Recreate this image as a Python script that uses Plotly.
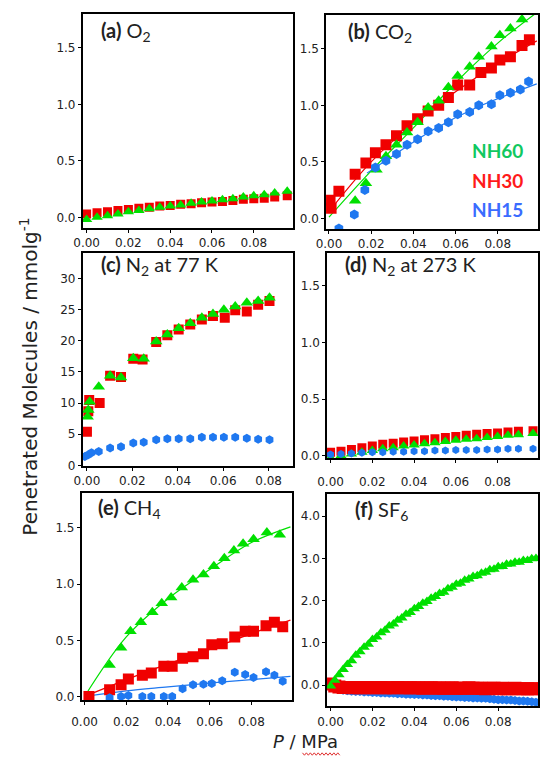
import plotly.graph_objects as go

# ---------------- data ----------------
GREEN = '#00e000'
RED = '#f00000'
BLUE = '#1f78f0'

# (a) O2
a_x = [0.000, 0.005, 0.010, 0.015, 0.020, 0.025, 0.030, 0.035, 0.040, 0.045,
       0.050, 0.055, 0.060, 0.065, 0.070, 0.075, 0.080, 0.085, 0.090, 0.096]
a_red = [0.03, 0.04, 0.05, 0.06, 0.07, 0.08, 0.09, 0.10, 0.105, 0.115,
         0.12, 0.13, 0.135, 0.14, 0.15, 0.16, 0.165, 0.17, 0.18, 0.19]
a_green = [-0.02, 0.00, 0.015, 0.03, 0.05, 0.06, 0.075, 0.09, 0.10, 0.11,
           0.125, 0.135, 0.145, 0.155, 0.165, 0.18, 0.19, 0.20, 0.215, 0.23]

# (b) CO2
b_green_x = [0.0124, 0.0175, 0.0225, 0.027, 0.032, 0.037, 0.042, 0.047, 0.052,
             0.0566, 0.061, 0.0667, 0.071, 0.077, 0.081, 0.086, 0.0915]
b_green = [0.155, 0.31, 0.43, 0.55, 0.65, 0.76, 0.85, 0.98, 1.04,
           1.16, 1.26, 1.34, 1.43, 1.52, 1.62, 1.68, 1.76]
b_red_x = [0.0005, 0.001, 0.0047, 0.0124, 0.0175, 0.022, 0.027, 0.032, 0.037, 0.042,
           0.047, 0.052, 0.0566, 0.061, 0.0667, 0.072, 0.077, 0.081, 0.086, 0.0915, 0.095]
b_red = [0.16, 0.09, 0.24, 0.39, 0.49, 0.58, 0.65, 0.73, 0.82, 0.88,
         0.95, 1.00, 1.07, 1.18, 1.18, 1.29, 1.33, 1.40, 1.43, 1.53, 1.58]
b_blue_x = [0.0047, 0.012, 0.017, 0.022, 0.027, 0.032, 0.037, 0.042, 0.047, 0.052,
            0.0566, 0.061, 0.0667, 0.071, 0.077, 0.081, 0.086, 0.0907, 0.0946]
b_blue = [-0.09, 0.035, 0.25, 0.45, 0.51, 0.57, 0.65, 0.70, 0.77, 0.80,
          0.85, 0.92, 0.94, 1.00, 1.01, 1.09, 1.11, 1.14, 1.21]
b_fit_x = [0.0, 0.02, 0.04, 0.06, 0.08, 0.0985]
b_green_fit = [0.01, 0.42, 0.80, 1.20, 1.55, 1.82]
b_red_fit = [0.06, 0.50, 0.84, 1.12, 1.37, 1.57]
b_blue_fit_x = [0.018, 0.03, 0.05, 0.07, 0.0985]
b_blue_fit = [0.40, 0.55, 0.79, 0.98, 1.19]

# (c) N2 at 77 K
c_green_x = [0.0003, 0.0006, 0.0012, 0.0052, 0.0102, 0.015, 0.0204, 0.025, 0.0305, 0.0354,
             0.0404, 0.0455, 0.0506, 0.0555, 0.0603, 0.0653, 0.0704, 0.0754, 0.0804]
c_green = [7.8, 8.9, 10.2, 12.6, 14.4, 14.1, 17.2, 17.1, 19.9, 21.0,
           22.0, 22.8, 23.7, 24.3, 25.0, 25.5, 26.1, 26.4, 26.9]
c_red_x = [0.0000, 0.0006, 0.0010, 0.0056, 0.0102, 0.015, 0.0204, 0.0245, 0.0305, 0.0354,
           0.0404, 0.0455, 0.0506, 0.0555, 0.0607, 0.0653, 0.0704, 0.0754, 0.0804]
c_red = [5.4, 8.7, 10.5, 10.0, 14.4, 14.2, 17.1, 17.0, 19.8, 20.9,
         21.8, 22.6, 23.4, 24.0, 23.7, 24.9, 24.7, 25.8, 26.4]
c_blue_x = [-0.0009, 0.0006, 0.0020, 0.0052, 0.0102, 0.015, 0.0204, 0.025, 0.0305, 0.0354,
            0.0404, 0.0455, 0.0506, 0.0555, 0.0603, 0.0653, 0.0704, 0.0754, 0.0804]
c_blue = [1.4, 1.7, 2.0, 2.2, 2.8, 3.0, 3.6, 3.7, 4.1, 4.25,
          4.25, 4.25, 4.5, 4.5, 4.5, 4.5, 4.35, 4.2, 4.1]

# (d) N2 at 273 K
d_x = [0.000, 0.005, 0.010, 0.015, 0.020, 0.025, 0.030, 0.035, 0.040, 0.045,
       0.050, 0.055, 0.060, 0.065, 0.070, 0.075, 0.080, 0.085, 0.090, 0.097]
d_red = [0.03, 0.04, 0.055, 0.07, 0.085, 0.10, 0.11, 0.12, 0.13, 0.14,
         0.15, 0.16, 0.17, 0.18, 0.19, 0.195, 0.20, 0.21, 0.215, 0.22]
d_green = [-0.02, 0.00, 0.015, 0.03, 0.045, 0.06, 0.07, 0.085, 0.095, 0.105,
           0.115, 0.125, 0.135, 0.145, 0.15, 0.16, 0.17, 0.18, 0.185, 0.195]
d_blue = [0.01, 0.015, 0.02, 0.025, 0.03, 0.03, 0.035, 0.035, 0.04, 0.04,
          0.045, 0.045, 0.05, 0.05, 0.05, 0.055, 0.055, 0.06, 0.06, 0.06]

# (e) CH4
e_green_x = [0.012, 0.0175, 0.022, 0.027, 0.0325, 0.037, 0.0415, 0.0466, 0.052,
             0.057, 0.062, 0.067, 0.0716, 0.076, 0.081, 0.0874, 0.0936]
e_green = [0.28, 0.435, 0.58, 0.66, 0.75, 0.83, 0.88, 0.97, 1.04,
           1.085, 1.16, 1.23, 1.30, 1.36, 1.40, 1.46, 1.44]
e_red_x = [0.0021, 0.012, 0.0175, 0.021, 0.0277, 0.032, 0.038, 0.042, 0.047,
           0.052, 0.057, 0.061, 0.066, 0.072, 0.077, 0.081, 0.087, 0.091, 0.095]
e_red = [0.0, 0.06, 0.105, 0.155, 0.19, 0.21, 0.27, 0.27, 0.34,
         0.355, 0.38, 0.46, 0.47, 0.53, 0.58, 0.58, 0.63, 0.66, 0.62]
e_blue_x = [0.012, 0.0175, 0.021, 0.0277, 0.032, 0.038, 0.042, 0.047, 0.052,
            0.057, 0.061, 0.066, 0.072, 0.077, 0.081, 0.087, 0.091, 0.095]
e_blue = [-0.01, 0.0, 0.01, 0.0, 0.0, 0.0, 0.0, 0.07, 0.105,
          0.11, 0.115, 0.14, 0.215, 0.195, 0.17, 0.22, 0.19, 0.135]
e_fit_x = [0.0, 0.02, 0.04, 0.06, 0.08, 0.0987]
e_green_fit = [0.0, 0.53, 0.87, 1.13, 1.37, 1.51]
e_red_fit = [0.0, 0.15, 0.29, 0.42, 0.56, 0.68]
e_blue_fit = [0.0, 0.05, 0.085, 0.12, 0.15, 0.18]

# (f) SF6
f_x = [0.000, 0.002, 0.004, 0.006, 0.008, 0.010, 0.012, 0.014, 0.016, 0.018,
       0.020, 0.022, 0.024, 0.026, 0.028, 0.030, 0.032, 0.034, 0.036, 0.038,
       0.040, 0.042, 0.044, 0.046, 0.048, 0.050, 0.052, 0.054, 0.056, 0.058,
       0.060, 0.062, 0.064, 0.066, 0.068, 0.070, 0.072, 0.074, 0.076, 0.078,
       0.080, 0.082, 0.084, 0.086, 0.088, 0.090, 0.092, 0.094, 0.096, 0.098]
f_green = [-0.02, 0.12, 0.25, 0.37, 0.49, 0.58, 0.71, 0.79, 0.90, 0.97,
           1.08, 1.14, 1.24, 1.30, 1.40, 1.45, 1.54, 1.59, 1.68, 1.72,
           1.81, 1.86, 1.94, 1.98, 2.06, 2.10, 2.17, 2.20, 2.28, 2.32,
           2.39, 2.41, 2.48, 2.51, 2.57, 2.59, 2.65, 2.67, 2.73, 2.74,
           2.80, 2.81, 2.86, 2.87, 2.91, 2.91, 2.95, 2.95, 2.99, 3.00]
f_red = [0.03, -0.02, -0.04, -0.05, -0.05, -0.06, -0.05, -0.06, -0.06, -0.05,
         -0.06, -0.06, -0.05, -0.06, -0.06, -0.06, -0.05, -0.06, -0.06, -0.06,
         -0.06, -0.06, -0.07, -0.06, -0.06, -0.07, -0.06, -0.07, -0.07, -0.06,
         -0.07, -0.07, -0.07, -0.06, -0.07, -0.07, -0.07, -0.08, -0.07, -0.07,
         -0.08, -0.07, -0.08, -0.08, -0.07, -0.08, -0.08, -0.08, -0.08, -0.08]
f_blue = [0.0, -0.06, -0.10, -0.12, -0.13, -0.14, -0.15, -0.15, -0.16, -0.16,
          -0.17, -0.17, -0.18, -0.18, -0.19, -0.19, -0.20, -0.20, -0.21, -0.21,
          -0.22, -0.22, -0.23, -0.23, -0.24, -0.25, -0.25, -0.26, -0.26, -0.27,
          -0.28, -0.28, -0.29, -0.29, -0.30, -0.30, -0.31, -0.31, -0.32, -0.33,
          -0.34, -0.34, -0.35, -0.35, -0.36, -0.37, -0.37, -0.38, -0.39, -0.40]

x_tickvals = [0.0, 0.02, 0.04, 0.06, 0.08]
x_ticktext = ['0.00', '0.02', '0.04', '0.06', '0.08']
y_tickvals_std = [0.0, 0.5, 1.0, 1.5]
y_ticktext_std = ['0.0', '0.5', '1.0', '1.5']
y_tickvals_c = [0, 5, 10, 15, 20, 25, 30]
y_ticktext_c = ['0', '5', '10', '15', '20', '25', '30']
y_tickvals_f = [0.0, 1.0, 2.0, 3.0, 4.0]
y_ticktext_f = ['0.0', '1.0', '2.0', '3.0', '4.0']

panel_titles = ['<b>(a)</b> O<sub>2</sub>', '<b>(b)</b> CO<sub>2</sub>',
                '<b>(c)</b> N<sub>2</sub> at 77 K', '<b>(d)</b> N<sub>2</sub> at 273 K',
                '<b>(e)</b> CH<sub>4</sub>', '<b>(f)</b> SF<sub>6</sub>']
legend_names = ['NH60', 'NH30', 'NH15']

# ---------------- layout geometry (pixels) ----------------
W, H = 540, 764
# (left, right, top, bottom)
boxes = [(74, 288, 14, 230), (322, 538, 15, 231),
         (74, 288, 255, 470), (323, 538, 255, 462),
         (73, 287, 497, 706), (323, 538, 498, 712)]
xranges = [[-0.0019, 0.0986], [-0.0014, 0.0991], [-0.0019, 0.0906],
           [-0.0017, 0.0994], [-0.0014, 0.0993], [-0.0017, 0.0990]]
yranges = [[-0.096, 1.80], [-0.096, 1.80], [-0.16, 34.1],
           [-0.024, 1.79], [-0.035, 1.81], [-0.50, 4.52]]
xstandoff = [0, 0, 0, 8, 6, 0]

fig = go.Figure()


def ax(i):
    return ('x' if i == 0 else f'x{i+1}'), ('y' if i == 0 else f'y{i+1}')


def add_markers(i, x, y, color, symbol, size):
    xa, ya = ax(i)
    fig.add_trace(go.Scatter(x=x, y=y, mode='markers', xaxis=xa, yaxis=ya,
                             marker=dict(color=color, symbol=symbol, size=size,
                                         line=dict(width=0)),
                             showlegend=False, cliponaxis=True))


def add_line(i, x, y, color):
    xa, ya = ax(i)
    fig.add_trace(go.Scatter(x=x, y=y, mode='lines', xaxis=xa, yaxis=ya,
                             line=dict(color=color, width=1.2, shape='spline'),
                             showlegend=False))


# (a)
add_markers(0, a_x, a_red, RED, 'square', 9)
add_markers(0, a_x, a_green, GREEN, 'triangle-up', 10)
# (b)
add_line(1, b_fit_x, b_red_fit, RED)
add_line(1, b_fit_x, b_green_fit, GREEN)
add_line(1, b_blue_fit_x, b_blue_fit, BLUE)
add_markers(1, b_red_x, b_red, RED, 'square', 11)
add_markers(1, b_green_x, b_green, GREEN, 'triangle-up', 11)
add_markers(1, b_blue_x, b_blue, BLUE, 'hexagon', 10)
# (c)
add_markers(2, c_red_x, c_red, RED, 'square', 10)
add_markers(2, c_green_x, c_green, GREEN, 'triangle-up', 11)
add_markers(2, c_blue_x, c_blue, BLUE, 'hexagon', 9)
# (d)
add_markers(3, d_x, d_red, RED, 'square', 9)
add_markers(3, d_x, d_green, GREEN, 'triangle-up', 10)
add_markers(3, d_x, d_blue, BLUE, 'hexagon', 8)
# (e)
add_line(4, e_fit_x, e_red_fit, RED)
add_line(4, e_fit_x, e_green_fit, GREEN)
add_line(4, e_fit_x, e_blue_fit, BLUE)
add_markers(4, e_red_x, e_red, RED, 'square', 11)
add_markers(4, e_green_x, e_green, GREEN, 'triangle-up', 11)
add_markers(4, e_blue_x, e_blue, BLUE, 'hexagon', 9)
# (f)
add_markers(5, f_x, f_blue, BLUE, 'hexagon', 9)
add_markers(5, f_x, f_red, RED, 'square', 13)
add_markers(5, f_x, f_green, GREEN, 'triangle-up', 10)

tick_font = dict(family='DejaVu Sans', size=12, color='#222222')
layout = dict(width=W, height=H, margin=dict(l=0, r=0, t=0, b=0),
              paper_bgcolor='white', plot_bgcolor='white', showlegend=False)

yticks = [(y_tickvals_std, y_ticktext_std)] * 2 + [(y_tickvals_c, y_ticktext_c),
          (y_tickvals_std, y_ticktext_std), (y_tickvals_std, y_ticktext_std),
          (y_tickvals_f, y_ticktext_f)]

for i, (l, r, t, b) in enumerate(boxes):
    common = dict(showline=True, linecolor='black', linewidth=1.5, mirror=True,
                  ticks='outside', ticklen=3, tickwidth=1.2, tickcolor='black',
                  showgrid=False, zeroline=False, tickfont=tick_font, fixedrange=True)
    xa_name = 'xaxis' if i == 0 else f'xaxis{i+1}'
    ya_name = 'yaxis' if i == 0 else f'yaxis{i+1}'
    xa, ya = ax(i)
    layout[xa_name] = dict(domain=[l / W, r / W], range=xranges[i], anchor=ya,
                           tickvals=x_tickvals, ticktext=x_ticktext,
                           ticklabelstandoff=xstandoff[i], **common)
    layout[ya_name] = dict(domain=[1 - b / H, 1 - t / H], range=yranges[i], anchor=xa,
                           tickvals=yticks[i][0], ticktext=yticks[i][1], **common)

fig.update_layout(**layout)

# panel titles
title_pos = [(91, 32), (342, 33), (91, 268), (339, 268), (88, 513), (349, 515)]
for txt, (px, py) in zip(panel_titles, title_pos):
    fig.add_annotation(text=txt, x=px / W, y=1 - py / H, xref='paper', yref='paper',
                       xanchor='left', yanchor='middle', showarrow=False,
                       font=dict(family='Lato', size=20, color='#222222'))

# legend labels in (b)
leg_colors = ['#10c860', '#ff1a1a', '#3a6cff']
leg_y = [152, 182, 211]
for name, c, py in zip(legend_names, leg_colors, leg_y):
    fig.add_annotation(text=f'<b>{name}</b>', x=497 / W, y=1 - py / H, xref='paper',
                       yref='paper', xanchor='center', yanchor='middle', showarrow=False,
                       font=dict(family='Lato', size=19, color=c))

# axis titles
fig.add_annotation(text='Penetrated Molecules / mmolg<sup>-1</sup>', x=19 / W, y=1 - 380 / H,
                   xref='paper', yref='paper', textangle=-90, showarrow=False,
                   xanchor='center', yanchor='middle',
                   font=dict(family='DejaVu Sans', size=20, color='#222222'))
fig.add_annotation(text='<i>P</i> / MPa', x=301 / W, y=1 - 747 / H, xref='paper', yref='paper',
                   showarrow=False, xanchor='center', yanchor='middle',
                   font=dict(family='DejaVu Sans', size=18, color='#222222'))

# spell-check style wavy underline under "MPa"
pts = []
xx = 298.0
k = 0
while xx <= 336:
    pts.append((xx, 760 + (1.2 if k % 2 else -1.2)))
    xx += 2.0
    k += 1
path = 'M ' + ' L '.join(f'{px / W:.5f},{1 - py / H:.5f}' for px, py in pts)
fig.add_shape(type='path', path=path, xref='paper', yref='paper',
              line=dict(color='#e03030', width=1))

fig.write_html('out.html')
